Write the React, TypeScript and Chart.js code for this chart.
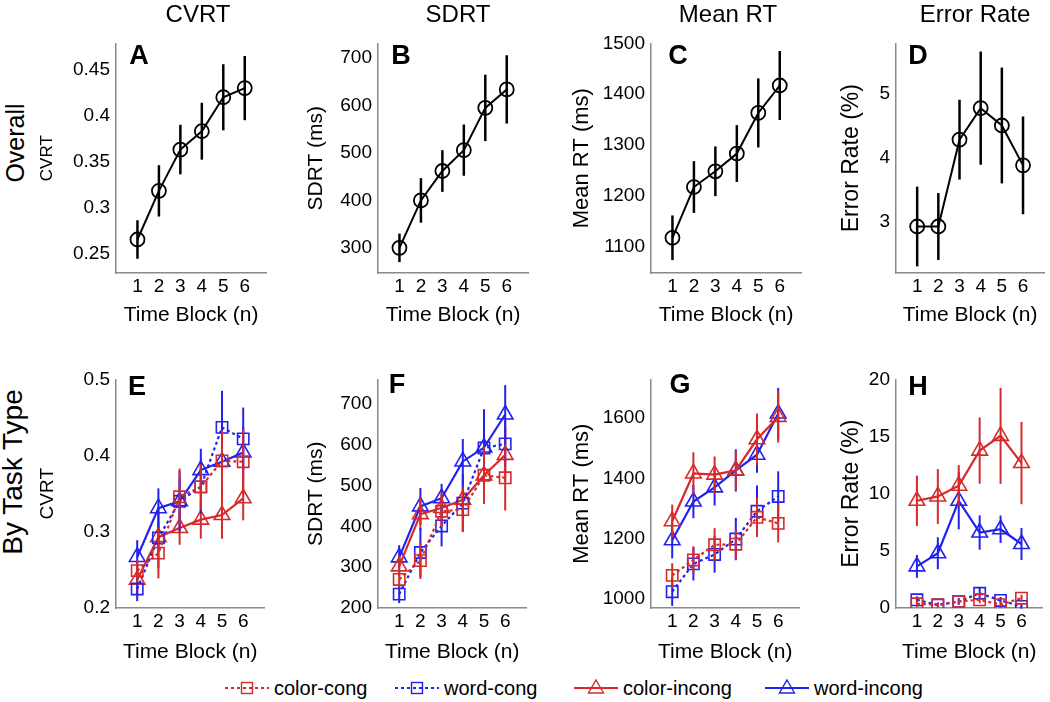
import React, { useEffect, useRef } from "react";
import { Chart, registerables } from "chart.js";

Chart.register(...registerables);

const FONT = "'Liberation Sans', Arial, Helvetica, sans-serif";
Chart.defaults.font.family = FONT;

const RED = "#d62a2a";
const BLUE = "#2222ee";
const AXIS = "#8a8a8a";

// ---------- data ----------
const blocks = [1, 2, 3, 4, 5, 6];
const seriesNames = ["color-cong", "word-cong", "color-incong", "word-incong"];
const columnTitles = ["CVRT", "SDRT", "Mean RT", "Error Rate"];
const rowTitles = ["Overall", "By Task Type"];
const panelLetters = ["A", "B", "C", "D", "E", "F", "G", "H"];

// Overall (row 1)
const cvrtMean = [0.265, 0.318, 0.363, 0.383, 0.42, 0.43];
const cvrtErr = [0.021, 0.028, 0.027, 0.031, 0.036, 0.035];
const sdrtMean = [300, 400, 462, 506, 595, 634];
const sdrtErr = [30, 47, 44, 54, 70, 72];
const meanRtMean = [1117, 1217, 1248, 1283, 1363, 1417];
const meanRtErr = [44, 51, 49, 56, 68, 68];
const errMean = [2.93, 2.93, 4.28, 4.77, 4.5, 3.88];
const errErr = [0.62, 0.52, 0.62, 0.88, 0.9, 0.76];

// By task type (row 2): color-cong, word-cong, color-incong, word-incong
const cvrtColorCong = [0.249, 0.272, 0.346, 0.359, 0.393, 0.392];
const cvrtColorCongErr = [0.015, 0.033, 0.037, 0.03, 0.04, 0.043];
const cvrtWordCong = [0.225, 0.292, 0.34, 0.359, 0.437, 0.422];
const cvrtWordCongErr = [0.016, 0.04, 0.04, 0.035, 0.048, 0.041];
const cvrtColorIncong = [0.237, 0.293, 0.305, 0.316, 0.322, 0.344];
const cvrtColorIncongErr = [0.02, 0.02, 0.022, 0.025, 0.031, 0.029];
const cvrtWordIncong = [0.267, 0.331, 0.34, 0.381, 0.392, 0.404];
const cvrtWordIncongErr = [0.022, 0.026, 0.03, 0.028, 0.075, 0.034];

const sdrtColorCong = [270, 316, 437, 441, 525, 519];
const sdrtColorCongErr = [20, 45, 40, 55, 70, 80];
const sdrtWordCong = [234, 336, 401, 457, 592, 602];
const sdrtWordCongErr = [22, 60, 50, 70, 95, 55];
const sdrtColorIncong = [302, 430, 445, 465, 525, 575];
const sdrtColorIncongErr = [25, 40, 40, 40, 60, 65];
const sdrtWordIncong = [324, 449, 469, 559, 593, 674];
const sdrtWordIncongErr = [30, 45, 35, 55, 60, 72];

const rtColorCong = [1079, 1130, 1180, 1182, 1271, 1251];
const rtColorCongErr = [40, 45, 55, 50, 65, 63];
const rtWordCong = [1025, 1117, 1148, 1199, 1291, 1340];
const rtWordCongErr = [47, 55, 60, 70, 85, 83];
const rtColorIncong = [1258, 1416, 1412, 1426, 1529, 1603];
const rtColorIncongErr = [55, 70, 60, 65, 85, 85];
const rtWordIncong = [1195, 1323, 1370, 1426, 1478, 1614];
const rtWordIncongErr = [60, 55, 60, 70, 60, 85];

const erColorCong = [0.37, 0.29, 0.57, 0.72, 0.29, 0.86];
const erColorCongErr = [0.3, 0.2, 0.2, 0.3, 0.3, 0.3];
const erWordCong = [0.72, 0.26, 0.57, 1.29, 0.66, 0.14];
const erWordCongErr = [0.3, 0.2, 0.3, 0.5, 0.3, 0.2];
const erColorIncong = [9.38, 9.76, 10.7, 13.77, 15.06, 12.68];
const erColorIncongErr = [2.2, 2.4, 1.8, 2.9, 4.2, 3.6];
const erWordIncong = [3.64, 4.79, 9.38, 6.6, 6.89, 5.6];
const erWordIncongErr = [1.0, 1.4, 2.5, 1.5, 1.2, 1.4];

// tick values
const cvrtTicksTop = [0.25, 0.3, 0.35, 0.4, 0.45];
const sdrtTicksTop = [300, 400, 500, 600, 700];
const rtTicksTop = [1100, 1200, 1300, 1400, 1500];
const erTicksTop = [3, 4, 5];
const cvrtTicksBot = [0.2, 0.3, 0.4, 0.5];
const sdrtTicksBot = [200, 300, 400, 500, 600, 700];
const rtTicksBot = [1000, 1200, 1400, 1600];
const erTicksBot = [0, 5, 10, 15, 20];

// ---------- plugin: vertical error bars through the scales ----------
const errorBarPlugin = {
  id: "errorBars",
  afterDatasetDraw(chart: any, args: any) {
    const ds = chart.data.datasets[args.index];
    if (!ds.errors) return;
    const ys = chart.scales.y;
    const ctx = chart.ctx;
    ctx.save();
    ctx.strokeStyle = ds.borderColor;
    ctx.lineWidth = ds.errorWidth || 2;
    ctx.setLineDash([]);
    ds.data.forEach((p: any, i: number) => {
      const el = args.meta.data[i];
      const e = ds.errors[i];
      const y1 = ys.getPixelForValue(p.y - e);
      const y2 = ys.getPixelForValue(p.y + e);
      ctx.beginPath();
      ctx.moveTo(el.x, y1);
      ctx.lineTo(el.x, y2);
      ctx.stroke();
    });
    ctx.restore();
  },
};

const pts = (vals: number[]) => blocks.map((b, i) => ({ x: b, y: vals[i] }));

function overallSet(vals: number[], errs: number[]) {
  return [
    {
      data: pts(vals),
      errors: errs,
      errorWidth: 2.5,
      borderColor: "#000",
      borderWidth: 2,
      pointStyle: "circle",
      pointRadius: 7,
      pointBorderWidth: 1.8,
      pointBorderColor: "#000",
      pointBackgroundColor: "rgba(0,0,0,0)",
      fill: false,
      tension: 0,
    },
  ];
}

const seriesStyle = [
  { color: RED, dash: [3, 3], marker: "rect", radius: 8 },
  { color: BLUE, dash: [3, 3], marker: "rect", radius: 8 },
  { color: RED, dash: [], marker: "triangle", radius: 9 },
  { color: BLUE, dash: [], marker: "triangle", radius: 9 },
];

function taskSets(vals: number[][], errs: number[][]) {
  return vals.map((v, k) => ({
    label: seriesNames[k],
    data: pts(v),
    errors: errs[k],
    errorWidth: 2,
    borderColor: seriesStyle[k].color,
    borderWidth: 2.2,
    borderDash: seriesStyle[k].dash,
    pointStyle: seriesStyle[k].marker,
    pointRadius: seriesStyle[k].radius,
    pointBorderWidth: 1.6,
    pointBorderColor: seriesStyle[k].color,
    pointBackgroundColor: "rgba(0,0,0,0)",
    fill: false,
    tension: 0,
  }));
}

type Spec = {
  left: number;
  top: number;
  width: number;
  height: number;
  yw: number;
  xh: number;
  yMin: number;
  yMax: number;
  yTicks: number[];
  yTitle: string;
  yTitleSize: number;
  datasets: any[];
};

const PT = 14;
const PR = 6;

const specs: Spec[] = [
  { left: 116, top: 40, width: 153, height: 233, yw: 79, xh: 55, yMin: 0.2285, yMax: 0.4787, yTicks: cvrtTicksTop, yTitle: "CVRT", yTitleSize: 17, datasets: overallSet(cvrtMean, cvrtErr) },
  { left: 377.5, top: 40, width: 153, height: 233, yw: 74, xh: 55, yMin: 247, yMax: 731, yTicks: sdrtTicksTop, yTitle: "SDRT (ms)", yTitleSize: 21, datasets: overallSet(sdrtMean, sdrtErr) },
  { left: 651, top: 40, width: 153, height: 233, yw: 82, xh: 55, yMin: 1047.6, yMax: 1500, yTicks: rtTicksTop, yTitle: "Mean RT (ms)", yTitleSize: 22, datasets: overallSet(meanRtMean, meanRtErr) },
  { left: 896, top: 40, width: 151, height: 233, yw: 58, xh: 55, yMin: 2.207, yMax: 5.776, yTicks: erTicksTop, yTitle: "Error Rate (%)", yTitleSize: 23, datasets: overallSet(errMean, errErr) },
  {
    left: 116, top: 376, width: 153, height: 232, yw: 80, xh: 57, yMin: 0.2, yMax: 0.5, yTicks: cvrtTicksBot, yTitle: "CVRT", yTitleSize: 19,
    datasets: taskSets([cvrtColorCong, cvrtWordCong, cvrtColorIncong, cvrtWordIncong], [cvrtColorCongErr, cvrtWordCongErr, cvrtColorIncongErr, cvrtWordIncongErr]),
  },
  {
    left: 378, top: 376, width: 153, height: 232, yw: 74, xh: 57, yMin: 200, yMax: 760, yTicks: sdrtTicksBot, yTitle: "SDRT (ms)", yTitleSize: 21,
    datasets: taskSets([sdrtColorCong, sdrtWordCong, sdrtColorIncong, sdrtWordIncong], [sdrtColorCongErr, sdrtWordCongErr, sdrtColorIncongErr, sdrtWordIncongErr]),
  },
  {
    left: 651, top: 376, width: 153, height: 232, yw: 82, xh: 57, yMin: 971, yMax: 1727, yTicks: rtTicksBot, yTitle: "Mean RT (ms)", yTitleSize: 22,
    datasets: taskSets([rtColorCong, rtWordCong, rtColorIncong, rtWordIncong], [rtColorCongErr, rtWordCongErr, rtColorIncongErr, rtWordIncongErr]),
  },
  {
    left: 896, top: 376, width: 151, height: 232, yw: 58, xh: 57, yMin: 0, yMax: 20, yTicks: erTicksBot, yTitle: "Error Rate (%)", yTitleSize: 23,
    datasets: taskSets([erColorCong, erWordCong, erColorIncong, erWordIncong], [erColorCongErr, erWordCongErr, erColorIncongErr, erWordIncongErr]),
  },
];

function Panel({ spec }: { spec: Spec }) {
  const ref = useRef<HTMLCanvasElement>(null);
  const cw = Math.round(spec.yw + spec.width + PR);
  const ch = Math.round(PT + spec.height + spec.xh);
  useEffect(() => {
    const chart = new Chart(ref.current as HTMLCanvasElement, {
      type: "line",
      data: { datasets: spec.datasets },
      options: {
        animation: false,
        responsive: false,
        layout: { padding: { top: PT, right: PR, left: 0, bottom: 0 } },
        plugins: { legend: { display: false }, tooltip: { enabled: false }, title: { display: false } },
        scales: {
          x: {
            type: "linear",
            min: 0,
            max: 7,
            afterBuildTicks: (s: any) => {
              s.ticks = blocks.map((v) => ({ value: v }));
            },
            afterFit: (s: any) => {
              s.height = spec.xh;
            },
            grid: { display: false, drawTicks: false },
            border: { display: true, color: AXIS, width: 1.5 },
            ticks: { color: "#000", font: { size: 19 }, padding: 2, autoSkip: false, maxRotation: 0, callback: (v: any) => String(v) },
            title: { display: true, text: "Time Block (n)", color: "#000", font: { size: 21 }, padding: 0 },
          },
          y: {
            type: "linear",
            min: spec.yMin,
            max: spec.yMax,
            afterBuildTicks: (s: any) => {
              s.ticks = spec.yTicks.map((v) => ({ value: v }));
            },
            afterFit: (s: any) => {
              s.width = spec.yw;
            },
            grid: { display: false, drawTicks: false },
            border: { display: true, color: AXIS, width: 1.5 },
            ticks: { color: "#000", font: { size: 19 }, padding: 6, autoSkip: false, callback: (v: any) => String(v) },
            title: { display: true, text: spec.yTitle, color: "#000", font: { size: spec.yTitleSize }, padding: 0 },
          },
        },
      } as any,
      plugins: [errorBarPlugin],
    });
    return () => chart.destroy();
  }, []);
  return (
    <div style={{ position: "absolute", left: spec.left - spec.yw, top: spec.top - PT, width: cw, height: ch }}>
      <canvas ref={ref} width={cw} height={ch} style={{ display: "block", width: cw, height: ch }} />
    </div>
  );
}

type Lbl = { text: string; x: number; y: number; size: number; bold?: boolean; rot?: boolean };

const labels: Lbl[] = [
  { text: columnTitles[0], x: 198, y: 14, size: 24 },
  { text: columnTitles[1], x: 458, y: 14, size: 24 },
  { text: columnTitles[2], x: 728, y: 14, size: 24 },
  { text: columnTitles[3], x: 975, y: 14, size: 24 },
  { text: rowTitles[0], x: 15, y: 143, size: 25, rot: true },
  { text: rowTitles[1], x: 13, y: 472, size: 28, rot: true },
  { text: panelLetters[0], x: 139, y: 55, size: 27, bold: true },
  { text: panelLetters[1], x: 401, y: 55, size: 27, bold: true },
  { text: panelLetters[2], x: 678, y: 55, size: 27, bold: true },
  { text: panelLetters[3], x: 918, y: 55, size: 27, bold: true },
  { text: panelLetters[4], x: 137, y: 386, size: 27, bold: true },
  { text: panelLetters[5], x: 397, y: 384, size: 27, bold: true },
  { text: panelLetters[6], x: 680, y: 384, size: 27, bold: true },
  { text: panelLetters[7], x: 918, y: 386, size: 27, bold: true },
];

const legendX = [224, 394, 573, 764];

function LegendSample({ k }: { k: number }) {
  const st = seriesStyle[k];
  const dashed = st.dash.length > 0;
  return (
    <svg width={46} height={20} style={{ display: "block" }}>
      <line x1={1} y1={10} x2={45} y2={10} stroke={st.color} strokeWidth={2.2} strokeDasharray={dashed ? "3 3" : undefined} />
      {st.marker === "rect" ? (
        <rect x={17.5} y={4.5} width={11} height={11} fill="none" stroke={st.color} strokeWidth={1.4} />
      ) : (
        <polygon points="23,2 30.5,15 15.5,15" fill="none" stroke={st.color} strokeWidth={1.4} />
      )}
    </svg>
  );
}

export default function App() {
  return (
    <div style={{ position: "absolute", left: 0, top: 0, width: 1050, height: 702, background: "#fff", overflow: "hidden", fontFamily: FONT }}>
      {specs.map((s, i) => (
        <Panel key={i} spec={s} />
      ))}
      {labels.map((l, i) => (
        <div
          key={i}
          style={{
            position: "absolute",
            left: l.x,
            top: l.y,
            transform: `translate(-50%, -50%)${l.rot ? " rotate(-90deg)" : ""}`,
            fontSize: l.size,
            fontWeight: l.bold ? 700 : 400,
            lineHeight: 1,
            whiteSpace: "nowrap",
            color: "#000",
          }}
        >
          {l.text}
        </div>
      ))}
      {seriesNames.map((n, k) => (
        <div key={n} style={{ position: "absolute", left: legendX[k], top: 678, height: 20, display: "flex", alignItems: "center", whiteSpace: "nowrap" }}>
          <LegendSample k={k} />
          <span style={{ fontSize: 20, marginLeft: 4, color: "#000", lineHeight: 1 }}>{n}</span>
        </div>
      ))}
    </div>
  );
}
